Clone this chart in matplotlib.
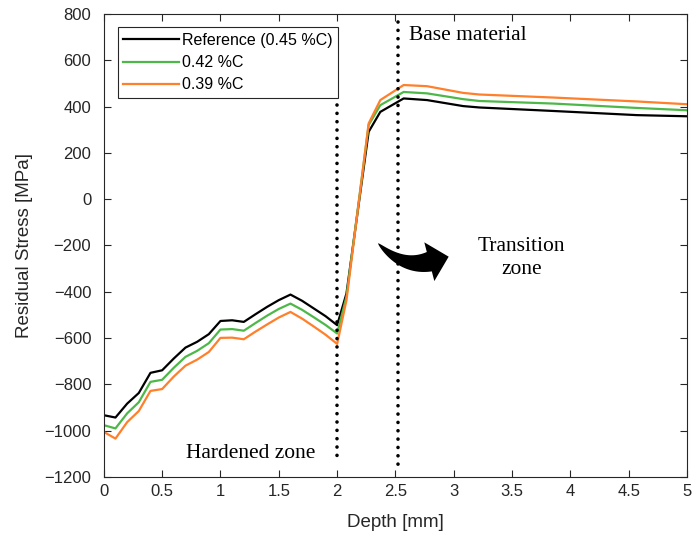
import matplotlib
matplotlib.use("Agg")
import matplotlib.pyplot as plt
import numpy as np
from matplotlib.patches import Polygon

plt.rcParams['font.family'] = ['Liberation Sans', 'DejaVu Sans']

depth = [0.0, 0.1, 0.2, 0.3, 0.4, 0.5, 0.6, 0.7, 0.8, 0.9, 1.0, 1.1, 1.2, 1.3, 1.4,
         1.5, 1.6, 1.7, 1.8, 1.9, 2.0, 2.08, 2.27, 2.37, 2.57, 2.77, 3.08, 3.22,
         3.85, 4.57, 5.0]

ref_045 = [-933, -943, -883, -837, -750, -739, -688, -641, -616, -583, -526, -523,
           -530, -497, -465, -436, -412, -439, -472, -505, -544, -407, 291, 377,
           435, 428, 402, 396, 381, 363, 358]

c_042 = [-976, -990, -925, -877, -789, -780, -728, -681, -655, -622, -563, -561,
         -568, -535, -503, -474, -451, -478, -510, -543, -580, -420, 320, 406,
         463, 457, 432, 424, 413, 394, 384]

c_039 = [-1005, -1034, -963, -915, -828, -820, -766, -719, -693, -660, -599, -598,
         -605, -572, -541, -511, -487, -516, -550, -585, -625, -436, 327, 428,
         493, 488, 459, 452, 439, 422, 410]

labels = ['Reference (0.45 %C)', '0.42 %C', '0.39 %C']
colors = ['#000000', '#4db848', '#ff7f2a']

xticks = [0, 0.5, 1, 1.5, 2, 2.5, 3, 3.5, 4, 4.5, 5]
yticks = [-1200, -1000, -800, -600, -400, -200, 0, 200, 400, 600, 800]

fig = plt.figure(figsize=(6.92, 5.36), dpi=100)
ax = fig.add_axes([0.150, 0.110, 0.843, 0.864])
ax.set_xlim(0, 5)
ax.set_ylim(-1200, 800)

for ys, lab, col in zip([ref_045, c_042, c_039], labels, colors):
    ax.plot(depth, ys, color=col, lw=1.6, label=lab)

# zone boundaries
ax.plot([2.0, 2.0], [405, -1135], color='black', lw=2.6,
        linestyle=(0, (0.01, 2.3)), dash_capstyle='round')
ax.plot([2.52, 2.52], [765, -1170], color='black', lw=2.6,
        linestyle=(0, (0.01, 2.3)), dash_capstyle='round')

serif = ['Liberation Serif', 'DejaVu Serif']
ax.text(2.62, 708, 'Base material', family=serif, fontsize=15.5, va='center', ha='left')
ax.text(3.58, -255, 'Transition\nzone', family=serif, fontsize=15.5, va='center',
        ha='center', linespacing=1.25)
ax.text(1.26, -1097, 'Hardened zone', family=serif, fontsize=15.5, va='center', ha='center')

# curved tapered arrow (built in display space, stored in data coords)
tr = ax.transData
P0 = tr.transform((2.35, -190))
P1 = tr.transform((2.56, -300))
P2 = tr.transform((2.79, -270))
t = np.linspace(0, 1, 40)[:, None]
B = (1 - t) ** 2 * P0 + 2 * (1 - t) * t * P1 + t ** 2 * P2
T = 2 * (1 - t) * (P1 - P0) + 2 * t * (P2 - P1)
T = T / np.linalg.norm(T, axis=1, keepdims=True)
N = np.column_stack([-T[:, 1], T[:, 0]])
w = 10 * t ** 0.7
upper = B + N * w
lower = B - N * w
T1, N1, B1 = T[-1], N[-1], B[-1]
head = [B1 + N1 * 20, B1 + T1 * 20, B1 - N1 * 20]
pts = np.vstack([upper, head, lower[::-1]])
ax.add_patch(Polygon(tr.inverted().transform(pts), closed=True, color='black', lw=0))

ax.set_xticks(xticks)
ax.set_xticklabels([f'{v:g}' for v in xticks])
ax.set_yticks(yticks)
ax.tick_params(direction='in', top=True, right=True, labelsize=12, length=5,
               color='#262626', labelcolor='#262626', width=0.8)
ax.tick_params(axis='y', pad=9)
ax.tick_params(axis='x', pad=5)
for s in ax.spines.values():
    s.set_color('#262626')
    s.set_linewidth(0.8)

ax.set_xlabel('Depth [mm]', fontsize=13.5, color='#262626', labelpad=11)
ax.set_ylabel('Residual Stress [MPa]', fontsize=13.5, color='#262626', labelpad=8)

leg = ax.legend(loc='upper left', bbox_to_anchor=(0.024, 0.971), fontsize=11.5,
                frameon=True, fancybox=False, edgecolor='#262626', framealpha=1,
                handlelength=3.5, handletextpad=0.15, borderpad=0.35, labelspacing=0.45,
                borderaxespad=0)
leg.get_frame().set_linewidth(0.8)

fig.savefig('out.png', dpi=100)
